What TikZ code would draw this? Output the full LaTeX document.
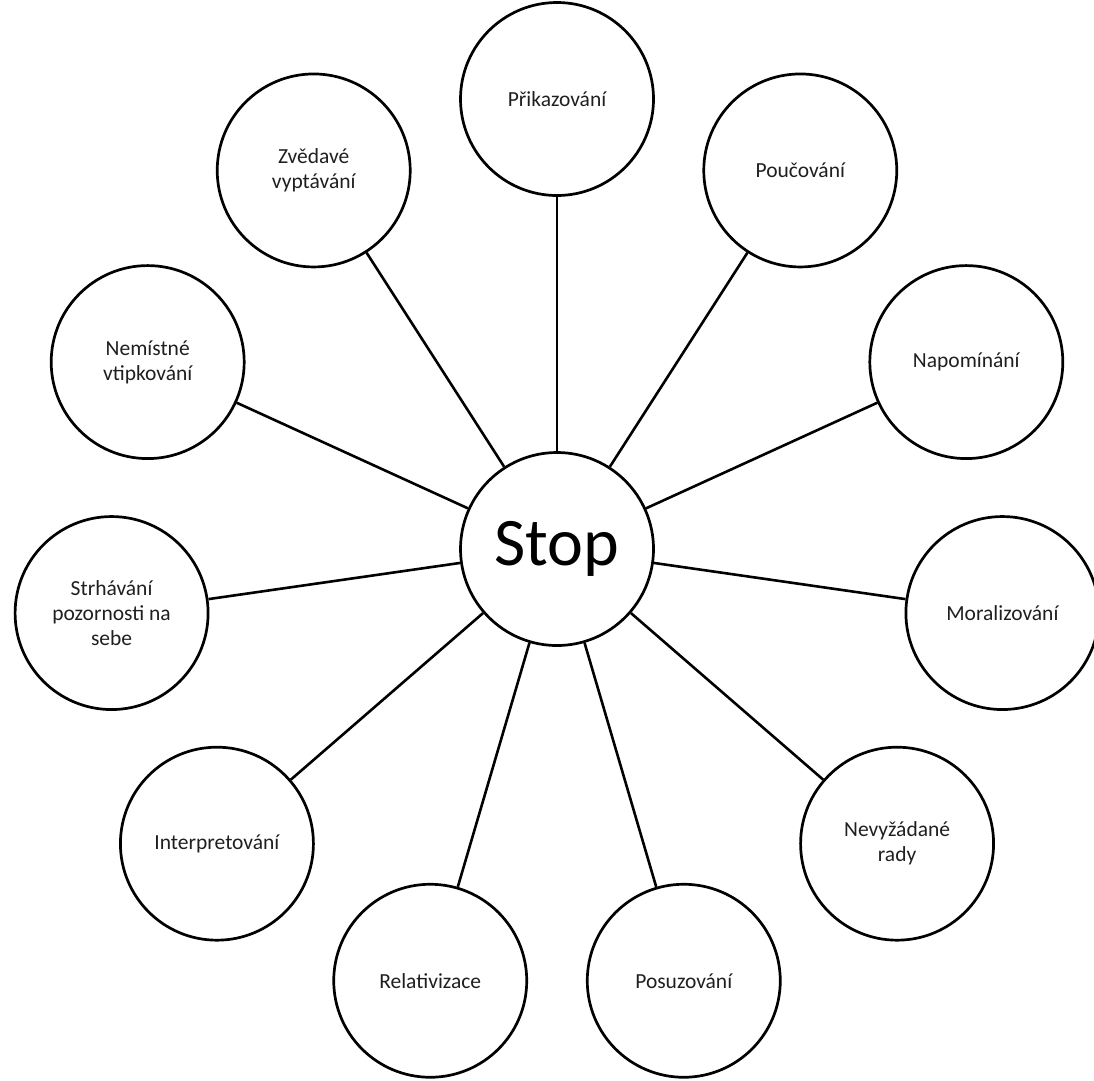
\documentclass[tikz,border=0pt]{standalone}
\usepackage{fontspec}
\setmainfont{Carlito}
\begin{document}
\begin{tikzpicture}[x=1pt,y=-1pt,
  bub/.style={circle,draw=black,line width=2.7pt,minimum size=193pt,inner sep=0pt,align=center,
    font=\fontsize{21.5}{25}\selectfont,text=black!88},
  hub/.style={bub,font=\fontsize{68}{70}\selectfont,text=black},
  spoke/.style={line width=2.6pt,draw=black}]
\useasboundingbox (0,0) rectangle (1094,1080);
\begin{scope}
\clip (0,0) rectangle (1094,1080);
\node[hub] (c) at (557,549) {Stop};
\foreach \k/\nm/\txt in {0/a/{Přikazování},1/b/{Poučování},2/d/{Napomínání},3/e/{Moralizování},
  4/f/{Nevyžádané\\rady},5/g/{Posuzování},6/h/{Relativizace},7/i/{Interpretování},
  8/j/{Strhávání\\pozornosti na\\sebe},9/k/{Nemístné\\vtipkování},10/l/{Zvědavé\\vyptávání}}{
  \pgfmathsetmacro{\ang}{\k*360/11}
  \node[bub] (\nm) at ({557+450*sin(\ang)},{549-450*cos(\ang)}) {\txt};
  \draw[spoke] (c) -- (\nm);
}
\end{scope}
\end{tikzpicture}
\end{document}
